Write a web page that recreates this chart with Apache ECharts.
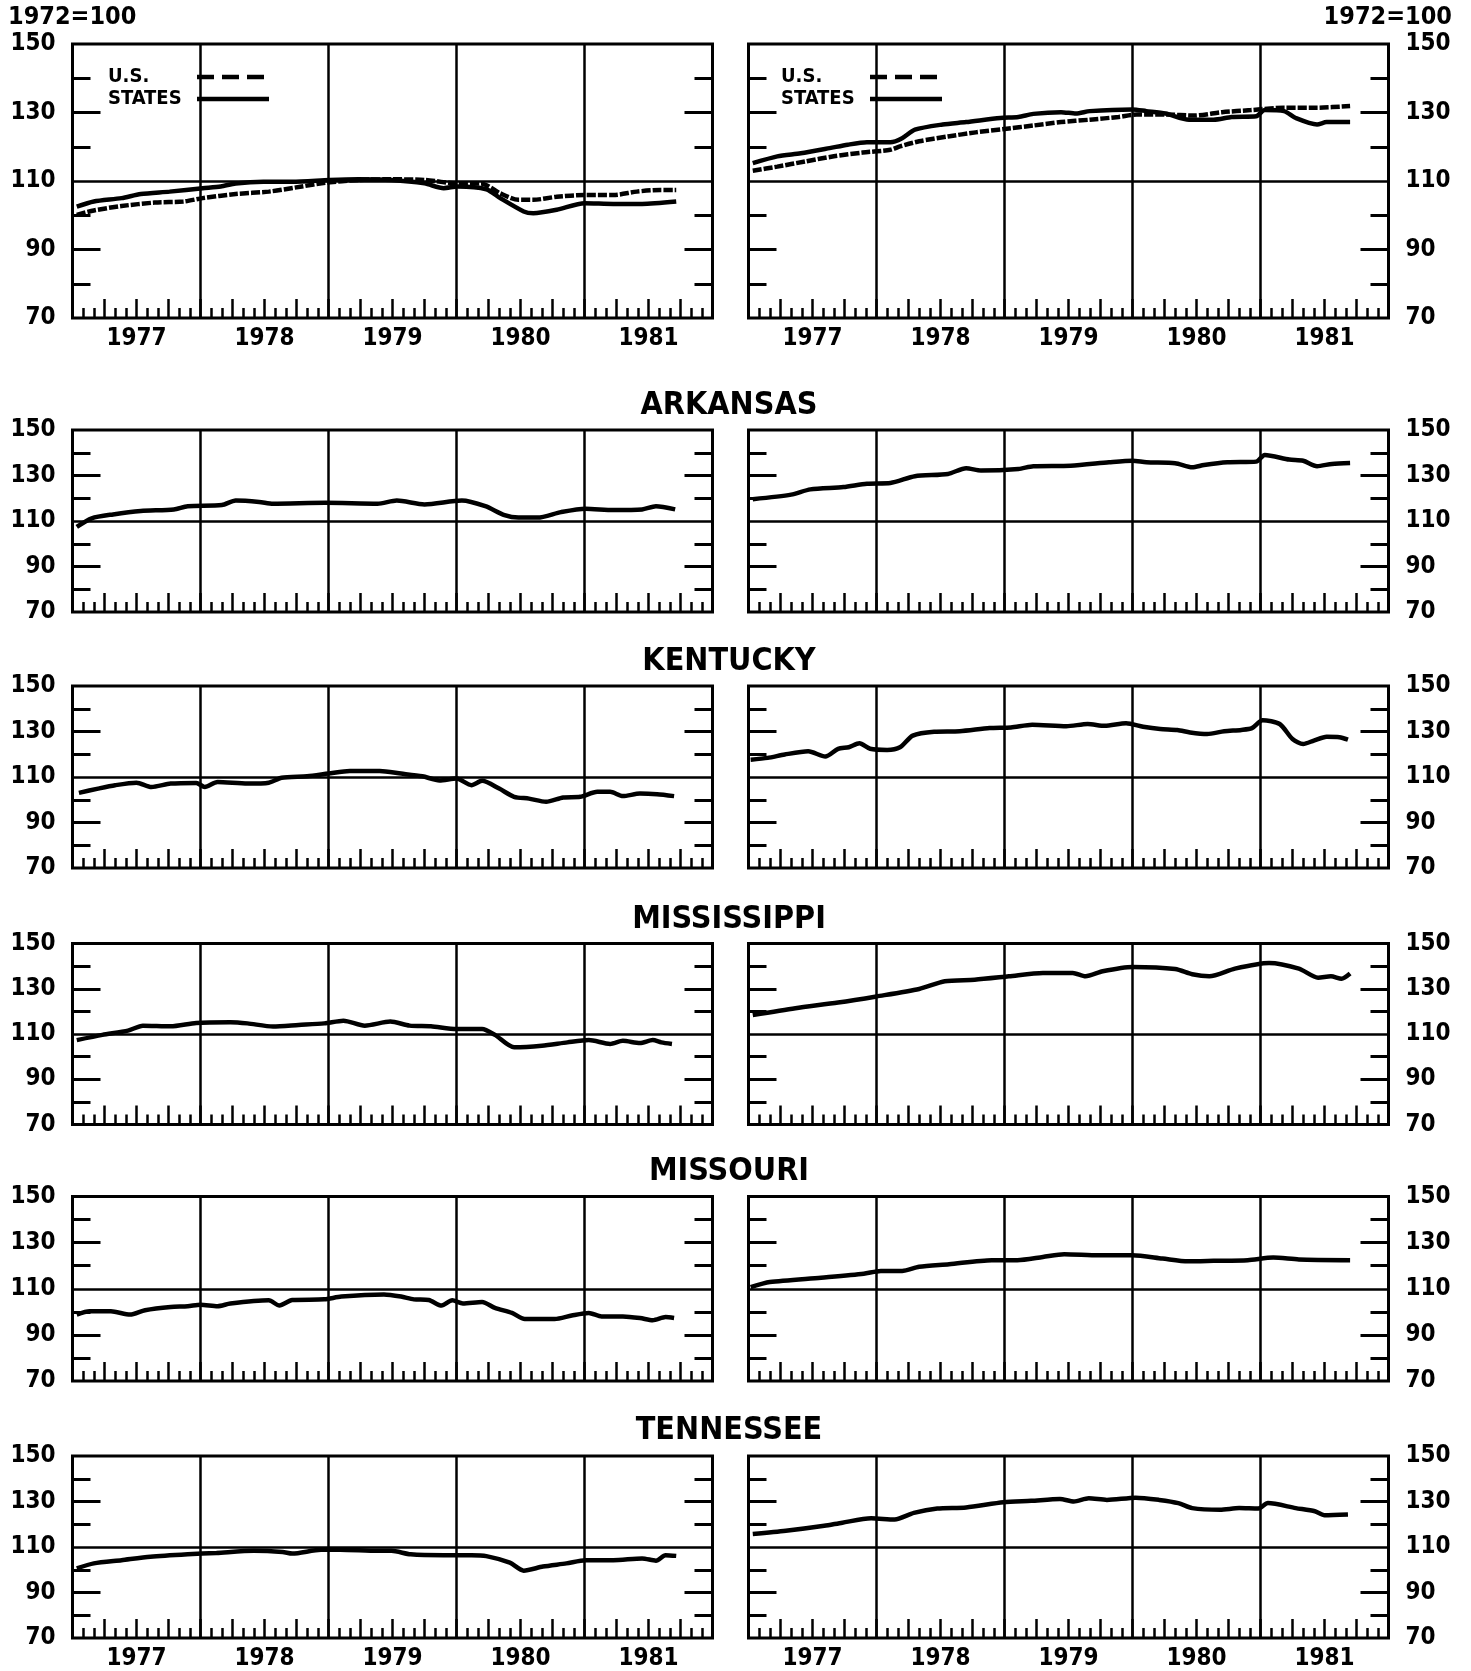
<!DOCTYPE html>
<html>
<head>
<meta charset="utf-8">
<script src="https://cdn.jsdelivr.net/npm/echarts@6/dist/echarts.min.js"></script>
<style>
  html, body { margin: 0; padding: 0; background: #fff; }
  #chart { width: 1471px; height: 1671px; }
</style>
</head>
<body>
<div id="chart"></div>
<script>
// x values are months since Jan 1977, y values are index (1972=100)
const years = ['1977', '1978', '1979', '1980', '1981']
const stateNames = ['ARKANSAS', 'KENTUCKY', 'MISSISSIPPI', 'MISSOURI', 'TENNESSEE']
const baseLabel = '1972=100'
const yLabelValues = [70, 90, 110, 130, 150]
const longTickValues = [90, 130]
const shortTickValues = [80, 100, 120, 140]
const refLine = 110

const usLeft = [[0.4, 100.1], [2, 101.4], [4.6, 102.7], [7.7, 103.7], [10.4, 104], [12.2, 105], [15.3, 106.2], [18.4, 106.9], [21.5, 108.4], [23.7, 109.5], [26.8, 110.3], [29.9, 110.5], [33, 110.3], [36.1, 109.3], [38.3, 109.3], [40.1, 106.4], [41.8, 104.5], [43.2, 104.5], [45.4, 105.4], [48, 105.9], [50.7, 105.9], [52.9, 106.9], [55.1, 107.4], [56.6, 107.4]]
const statesLeft = [[0.4, 102.5], [2, 104], [4.6, 105], [6.4, 106.2], [9.1, 106.9], [12.2, 107.9], [13.9, 108.4], [15.3, 109.3], [17.9, 109.8], [20.6, 109.8], [24.1, 110.3], [26.8, 110.5], [29.9, 110.3], [33, 109.3], [34.8, 107.9], [36.1, 108.4], [38.8, 107.6], [40.1, 105], [42.3, 101.1], [43.2, 100.6], [45.4, 101.6], [48, 103.5], [50.7, 103.3], [53.4, 103.3], [56.6, 104]]
const usRight = [[0.4, 113], [2.7, 114.2], [5.3, 115.7], [8, 117.2], [10.7, 118.3], [13.3, 119.1], [14.2, 120.1], [16, 121.6], [18.7, 123], [21.3, 124.2], [24, 125.2], [26.7, 126.2], [29.3, 127.2], [32, 127.9], [34.7, 128.7], [36.4, 129.4], [39.1, 129.4], [41.8, 129.1], [44.4, 130.1], [47.1, 130.7], [50.2, 131.4], [53.3, 131.4], [56.4, 131.9]]
const statesRight = [[0.4, 115.2], [2.7, 117.2], [4.9, 118.1], [7.6, 119.6], [9.3, 120.6], [11.1, 121.3], [13.3, 121.3], [14.4, 122.5], [15.6, 125], [18.2, 126.5], [20.4, 127.2], [23.6, 128.4], [25.3, 128.7], [26.7, 129.6], [29.3, 130.1], [30.7, 129.7], [32, 130.4], [36, 130.9], [37.3, 130.4], [39.1, 129.7], [41.3, 127.9], [43.6, 127.9], [45.3, 128.7], [47.6, 128.9], [48.4, 130.7], [50.2, 130.4], [51.3, 128.4], [53.3, 126.5], [54.2, 127.2], [56.4, 127.2]]

const arLeft = [[0.4, 107.4], [1.8, 111.2], [3.8, 112.9], [6.4, 114.4], [9.5, 115.1], [10.8, 116.5], [14, 117], [15.3, 119], [17.5, 118.4], [18.8, 117.6], [23.7, 118], [28.6, 117.6], [30.4, 119], [33, 117.3], [36.5, 119], [38.7, 116.5], [40.5, 112.6], [41.8, 111.5], [43.6, 111.5], [45.8, 113.9], [48.1, 115.4], [50.7, 114.8], [53.4, 115.1], [54.7, 116.5], [56.5, 115.1]]
const arRight = [[0.4, 119.6], [4, 121.6], [5.8, 123.9], [8.9, 124.9], [11.1, 126.4], [13.3, 126.7], [15.6, 129.7], [18.7, 130.7], [20.4, 133.2], [21.8, 132.2], [25.3, 132.9], [26.7, 134.1], [30.2, 134.3], [33.8, 135.8], [36, 136.5], [37.3, 135.8], [40, 135.4], [41.6, 133.6], [42.7, 134.6], [44.9, 135.8], [47.6, 136.1], [48.4, 139], [50.7, 137], [52, 136.5], [53.3, 134.1], [54.7, 135.1], [56.4, 135.5]]
const kyLeft = [[0.6, 103], [2.4, 104.9], [4, 106.4], [6, 107.5], [7.4, 105.6], [9.2, 107.1], [11.6, 107.4], [12.4, 105.6], [13.6, 107.8], [16.4, 107.1], [18.4, 107.5], [19.6, 109.7], [22, 110.3], [24, 111.5], [26, 112.6], [28.8, 112.6], [30.8, 111.5], [32.8, 110.3], [34.4, 108.5], [36, 109.3], [37.4, 106.4], [38.4, 108.3], [40, 104.9], [41.4, 101.3], [42.8, 100.5], [44.4, 99.1], [46, 101], [47.6, 101.3], [49.2, 103.5], [50.4, 103.5], [51.6, 101.6], [53.2, 102.7], [54.8, 102.4], [56.4, 101.6]]
const kyRight = [[0.2, 117.6], [1.8, 118.4], [3.4, 119.9], [5.6, 121.3], [7.2, 119], [8.4, 122.4], [9.4, 123.1], [10.4, 124.8], [11.4, 122.4], [13, 121.9], [14.2, 123.1], [15.4, 128.2], [17.4, 129.9], [19.8, 130.1], [22.6, 131.5], [24.6, 131.8], [26.6, 133], [29.8, 132.3], [31.8, 133.3], [33.4, 132.5], [35.4, 133.6], [37, 132.1], [38.6, 131.1], [40.2, 130.7], [41.4, 129.6], [43, 128.9], [44.6, 130.1], [46.2, 130.7], [47.2, 131.5], [48.2, 135], [49.8, 133.3], [51, 126.7], [52, 124.5], [53, 126], [54.2, 127.7], [55.4, 127.5], [56.2, 126.4]]
const msLeft = [[0.4, 107.3], [2.8, 109.6], [5.2, 111.5], [6.6, 113.7], [9.2, 113.4], [11.6, 114.9], [14.8, 115.2], [16.4, 114.7], [18.8, 113.3], [21.2, 114], [23.6, 114.7], [25.4, 115.9], [27.4, 113.7], [29.8, 115.5], [31.6, 113.7], [33.6, 113.4], [36, 112.2], [38.4, 112.2], [39.6, 109.6], [41.4, 104.1], [44, 104.8], [46.4, 106.3], [48.4, 107.3], [50.4, 105.6], [51.6, 107], [53.2, 106], [54.4, 107.3], [55.2, 106.3], [56.2, 105.6]]
const msRight = [[0.4, 118.4], [4.4, 121.4], [8.4, 123.9], [12, 126.6], [16, 129.9], [18.4, 133.3], [21.2, 134], [24.4, 135.5], [27.6, 137], [30.4, 137], [31.6, 135.5], [33.2, 137.7], [36, 139.6], [40, 138.7], [41.6, 136.4], [43.2, 135.5], [45.6, 138.9], [48.8, 141.4], [51.6, 138.9], [53.4, 134.9], [54.6, 135.5], [55.6, 134.4], [56.4, 136.7]]
const moLeft = [[0.4, 98.8], [1.6, 100.2], [3.6, 100.2], [5.4, 98.8], [6.8, 100.7], [9.2, 102.1], [10.8, 102.4], [12, 103.1], [13.6, 102.4], [14.8, 103.6], [18.4, 105], [19.4, 102.7], [20.6, 105.1], [23.6, 105.4], [25.2, 106.6], [29.2, 107.5], [30.8, 106.6], [32, 105.4], [33.4, 105.1], [34.6, 102.7], [35.6, 105], [36.6, 103.6], [38.4, 104.3], [39.6, 101.7], [41.2, 99.5], [42.4, 96.9], [45.2, 96.9], [46.8, 98.4], [48.4, 99.5], [49.6, 98], [51.6, 98], [53.2, 97.3], [54.4, 96.3], [55.6, 97.7], [56.4, 97.3]]
const moRight = [[0.2, 110.7], [2, 112.9], [6.8, 114.8], [10.8, 116.5], [12.4, 117.7], [14.4, 117.7], [16, 119.5], [18.8, 120.6], [22.8, 122.4], [25.2, 122.4], [27.6, 123.8], [29.6, 125], [32.8, 124.5], [36, 124.5], [38.8, 123.1], [41.2, 121.9], [43.6, 122.1], [46.8, 122.4], [49.2, 123.5], [51.6, 122.7], [56.4, 122.4]]
const tnLeft = [[0.4, 100.6], [2, 102.8], [4.6, 104.2], [7.3, 105.7], [10.8, 106.8], [13.5, 107.4], [17, 108.3], [19.7, 107.8], [20.6, 107.1], [23.3, 108.8], [25.1, 108.8], [28.6, 108.3], [29.9, 108.3], [31.7, 106.8], [34.8, 106.4], [37.4, 106.4], [38.8, 106], [41, 103.1], [42.3, 99.6], [44.1, 101.4], [46.3, 102.8], [48.1, 104.2], [50.7, 104.2], [53.4, 105], [54.7, 104], [55.6, 106.4], [56.6, 106.1]]
const tnRight = [[0.4, 115.7], [3.5, 117.1], [7.1, 119.3], [8.8, 120.7], [11.5, 122.6], [13.7, 122.1], [15.5, 125], [17.7, 126.9], [20.4, 127.4], [23.9, 129.7], [26.5, 130.3], [29.2, 131.1], [30.5, 130], [31.9, 131.4], [33.6, 130.7], [36.3, 131.7], [38.5, 130.7], [40.3, 129.3], [41.6, 127.1], [44.2, 126.4], [46, 127.1], [47.8, 126.9], [48.7, 129.3], [51.3, 127.1], [53.1, 125.7], [54, 124], [56.2, 124.3]]

const FONT = '"DejaVu Sans Condensed", "DejaVu Sans", sans-serif'
const INK = '#000'

// panel boxes
const colLeft = [72.5, 748.5]
const colWidth = 640
const rowTop = [44, 430, 686, 943.5, 1196.5, 1456]
const rowHeight = [274, 182, 182, 181, 184.5, 184]
const titleY = [null, 406, 662, 920, 1172, 1431]

const panels = [
  { row: 0, col: 0, lines: [['U.S.', usLeft, true], ['STATES', statesLeft, false]] },
  { row: 0, col: 1, lines: [['U.S.', usRight, true], ['STATES', statesRight, false]] },
  { row: 1, col: 0, lines: [['ARKANSAS', arLeft, false]] },
  { row: 1, col: 1, lines: [['ARKANSAS', arRight, false]] },
  { row: 2, col: 0, lines: [['KENTUCKY', kyLeft, false]] },
  { row: 2, col: 1, lines: [['KENTUCKY', kyRight, false]] },
  { row: 3, col: 0, lines: [['MISSISSIPPI', msLeft, false]] },
  { row: 3, col: 1, lines: [['MISSISSIPPI', msRight, false]] },
  { row: 4, col: 0, lines: [['MISSOURI', moLeft, false]] },
  { row: 4, col: 1, lines: [['MISSOURI', moRight, false]] },
  { row: 5, col: 0, lines: [['TENNESSEE', tnLeft, false]] },
  { row: 5, col: 1, lines: [['TENNESSEE', tnRight, false]] }
]

const labelFont = { color: INK, fontFamily: FONT, fontWeight: 'bold', fontSize: 24 }
const noLine = { show: false, onZero: false }

const grid = []
const xAxis = []
const yAxis = []
const series = []

panels.forEach((p, g) => {
  grid.push({
    left: colLeft[p.col],
    top: rowTop[p.row],
    width: colWidth,
    height: rowHeight[p.row],
    show: true,
    borderColor: INK,
    borderWidth: 3,
    backgroundColor: 'transparent'
  })
  const xBase = xAxis.length
  const yBase = yAxis.length
  const xCommon = { gridIndex: g, type: 'value', min: 0, max: 60, position: 'bottom', axisLine: noLine, splitLine: { show: false }, axisLabel: { show: false } }
  // monthly ticks
  xAxis.push({ ...xCommon, interval: 1, axisTick: { inside: true, length: 10, lineStyle: { color: INK, width: 2.5 } } })
  // quarterly ticks
  xAxis.push({ ...xCommon, interval: 3, axisTick: { inside: true, length: 19, lineStyle: { color: INK, width: 2.5 } } })
  // year lines
  xAxis.push({ ...xCommon, interval: 12, axisTick: { show: false }, splitLine: { show: true, lineStyle: { color: INK, width: 2.5 } } })
  // year labels
  const showYears = p.row === 0 || p.row === 5
  xAxis.push({
    ...xCommon,
    interval: 6,
    axisTick: { show: false },
    axisLabel: {
      show: showYears,
      margin: 9,
      ...labelFont,
      formatter: v => (v % 12 === 6 ? years[(v - 6) / 12] : '')
    }
  })

  const yCommon = { gridIndex: g, type: 'value', min: 70, max: 150, interval: 10, axisLine: noLine, splitLine: { show: false }, axisLabel: { show: false } }
  ;['left', 'right'].forEach(side => {
    yAxis.push({
      ...yCommon,
      position: side,
      axisTick: { inside: true, length: 28, customValues: longTickValues, lineStyle: { color: INK, width: 3 } }
    })
    yAxis.push({
      ...yCommon,
      position: side,
      axisTick: { inside: true, length: 18, customValues: shortTickValues, lineStyle: { color: INK, width: 3 } }
    })
  })
  // value labels, on the outer side of each column
  yAxis.push({
    ...yCommon,
    position: p.col === 0 ? 'left' : 'right',
    axisTick: { show: false },
    axisLabel: { show: true, margin: 17, customValues: yLabelValues, ...labelFont }
  })

  p.lines.forEach(([name, data, dashed], k) => {
    const s = {
      name,
      type: 'line',
      xAxisIndex: xBase,
      yAxisIndex: yBase,
      data,
      symbol: 'none',
      smooth: 0.25,
      silent: true,
      z: 5,
      itemStyle: { color: INK },
      lineStyle: { color: INK, width: 4.5, type: dashed ? [9, 2] : 'solid' }
    }
    if (k === 0) {
      // 110 reference line across the panel
      s.markLine = {
        silent: true,
        symbol: 'none',
        label: { show: false },
        lineStyle: { color: INK, width: 2.5, type: 'solid' },
        data: [{ yAxis: refLine }]
      }
    }
    series.push(s)
  })
})

const legendItem = (name, top, left, dash) => ({
  orient: 'vertical',
  align: 'right',
  left,
  top,
  padding: 0,
  itemWidth: 72,
  itemHeight: 14,
  selectedMode: false,
  itemStyle: { opacity: 0 },
  textStyle: { color: INK, fontFamily: FONT, fontWeight: 'bold', fontSize: 20, rich: { t: { width: 84, align: 'left', fontFamily: FONT, fontWeight: 'bold', fontSize: 20, color: INK } } },
  formatter: n => '{t|' + n + '}',
  data: [{ name, lineStyle: { type: dash ? [17, 8] : 'solid', width: 4.5, color: INK } }]
})

const graphic = [
  { type: 'text', left: 8, top: 5, style: { text: baseLabel, fill: INK, font: 'bold 25px ' + FONT } },
  { type: 'text', right: 19, top: 5, style: { text: baseLabel, fill: INK, font: 'bold 25px ' + FONT } }
]
stateNames.forEach((s, i) => {
  graphic.push({
    type: 'text',
    x: 729,
    y: titleY[i + 1],
    style: { text: s, fill: INK, font: 'bold 32px ' + FONT, textAlign: 'center', textVerticalAlign: 'middle' }
  })
})

const chart = echarts.init(document.getElementById('chart'), null, { renderer: 'canvas' })
chart.setOption({
  animation: false,
  backgroundColor: '#fff',
  grid,
  xAxis,
  yAxis,
  series,
  legend: [
    legendItem('U.S.', 67, 108, true),
    legendItem('STATES', 89, 108, false),
    legendItem('U.S.', 67, 781, true),
    legendItem('STATES', 89, 781, false)
  ],
  graphic
})
</script>
</body>
</html>
